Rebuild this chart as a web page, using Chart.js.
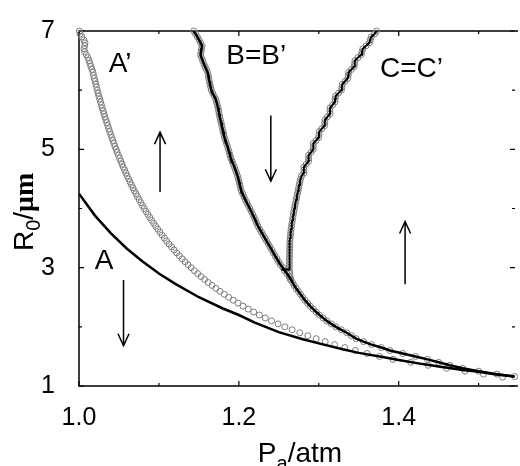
<!DOCTYPE html>
<html>
<head>
<meta charset="utf-8">
<script src="https://cdn.jsdelivr.net/npm/chart.js@4.4.1/dist/chart.umd.min.js"></script>
<style>
html,body{margin:0;padding:0;background:#fff;overflow:hidden;}
#wrap{width:520px;height:466px;}
</style>
</head>
<body>
<div id="wrap"><canvas id="c" width="520" height="466"></canvas></div>
<script>
// axes
let xTicks=[1.0,1.2,1.4];
let xMinor=[1.1,1.3,1.5];
let yTicks=[1,3,5,7];
let yMinor=[2,4,6];

// curve A (solid)
let aX=[1.00,1.02,1.04,1.06,1.08,1.10,1.12,1.15,1.18,1.20,1.22,1.25,1.28,1.30,1.33,1.35,1.38,1.40,1.43,1.45,1.48,1.50,1.52,1.545];
let aY=[4.25,3.88,3.58,3.32,3.10,2.90,2.73,2.50,2.31,2.20,2.07,1.91,1.79,1.72,1.62,1.56,1.49,1.44,1.37,1.33,1.27,1.24,1.20,1.16];

// curve A' (open circles)
let apY=[7.00,6.95,6.90,6.85,6.80,6.75,6.70,6.65,6.60,6.55,6.50,6.45,6.40,6.35,6.30,6.25,6.20,6.15,6.10,6.05,
 6.00,5.95,5.90,5.85,5.80,5.75,5.70,5.65,5.60,5.55,5.50,5.45,5.40,5.35,5.30,5.25,5.20,5.15,5.10,5.05,
 5.00,4.95,4.90,4.85,4.80,4.75,4.70,4.65,4.60,4.55,4.50,4.45,4.40,4.35,4.30,4.25,4.20,4.15,4.10,4.05,
 4.00,3.95,3.90,3.85,3.80,3.75,3.70,3.65,3.60,3.55,3.50,3.45,3.40,3.35,3.30,3.25,3.20,3.15,3.10,3.05,
 3.00,2.95,2.90,2.85,2.80,2.75,2.70,2.65,2.60,2.55,2.50,2.45,2.40,2.35,2.30,2.25,2.20,2.15,2.10,2.05,
 2.00,1.95,1.90,1.85,1.80,1.75,1.70,1.65,1.60,1.55,1.50,1.45,1.40,1.35,1.30,1.25,1.20,1.15];
let apX=[1.0005,1.0015,1.0035,1.0060,1.0075,1.0070,1.0062,1.0070,1.0092,1.0110,1.0125,1.0137,1.0148,1.0162,1.0175,1.0182,1.0191,1.0201,1.0210,1.0220,
 1.0229,1.0239,1.0249,1.0259,1.0270,1.0280,1.0291,1.0302,1.0313,1.0324,1.0336,1.0348,1.0360,1.0372,1.0384,1.0397,1.0410,1.0423,1.0436,1.0450,
 1.0464,1.0478,1.0493,1.0508,1.0523,1.0538,1.0554,1.0570,1.0587,1.0603,1.0621,1.0638,1.0656,1.0675,1.0693,1.0713,1.0732,1.0752,1.0773,1.0794,
 1.0816,1.0838,1.0861,1.0885,1.0909,1.0934,1.0959,1.0985,1.1012,1.1039,1.1068,1.1097,1.1127,1.1158,1.1190,1.1222,1.1256,1.1291,1.1327,1.1364,
 1.1403,1.1443,1.1484,1.1527,1.1571,1.1616,1.1664,1.1713,1.1764,1.1817,1.1872,1.1930,1.1990,1.2052,1.2117,1.2185,1.2256,1.2331,1.2409,1.2491,
 1.2577,1.2667,1.2762,1.2862,1.2968,1.3080,1.3198,1.3324,1.3457,1.3605,1.3760,1.3930,1.4150,1.4370,1.4600,1.4830,1.5060,1.5300];

// curve B=B' (line with circles)
let bY=[7.00,6.95,6.90,6.85,6.80,6.75,6.70,6.65,6.60,6.55,6.50,6.45,6.40,6.35,6.30,6.25,6.20,6.15,6.10,6.05,
 6.00,5.95,5.90,5.85,5.80,5.75,5.70,5.65,5.60,5.55,5.50,5.45,5.40,5.35,5.30,5.25,5.20,5.15,5.10,5.05,
 5.00,4.95,4.90,4.85,4.80,4.75,4.70,4.65,4.60,4.55,4.50,4.45,4.40,4.35,4.30,4.25,4.20,4.15,4.10,4.05,
 4.00,3.95,3.90,3.85,3.80,3.75,3.70,3.65,3.60,3.55,3.50,3.45,3.40,3.35,3.30,3.25,3.20,3.15,3.10,3.05,
 3.00,2.95,2.90,2.85,2.80,2.75,2.70,2.65,2.60,2.55,2.50,2.45,2.40,2.35,2.30,2.25,2.20,2.15,2.10,2.05,
 2.00,1.95,1.90,1.85,1.80,1.75,1.70,1.65,1.60,1.55,1.50,1.45,1.40,1.35,1.30,1.25,1.20,1.16];
let bX=[1.1435,1.1458,1.1481,1.1502,1.1521,1.1540,1.1533,1.1527,1.1520,1.1533,1.1547,1.1560,1.1577,1.1593,1.1610,1.1617,1.1623,1.1630,1.1639,1.1648,
 1.1656,1.1672,1.1691,1.1710,1.1720,1.1730,1.1740,1.1747,1.1753,1.1760,1.1769,1.1778,1.1786,1.1795,1.1803,1.1812,1.1820,1.1833,1.1845,1.1858,
 1.1868,1.1879,1.1889,1.1900,1.1915,1.1929,1.1944,1.1958,1.1971,1.1983,1.1994,1.2003,1.2012,1.2021,1.2030,1.2047,1.2063,1.2080,1.2099,1.2118,
 1.2137,1.2155,1.2173,1.2190,1.2207,1.2223,1.2240,1.2261,1.2283,1.2304,1.2326,1.2347,1.2369,1.2390,1.2411,1.2432,1.2454,1.2476,1.2498,1.2520,
 1.2550,1.2571,1.2600,1.2629,1.2651,1.2672,1.2692,1.2716,1.2744,1.2771,1.2798,1.2827,1.2860,1.2893,1.2931,1.2969,1.3009,1.3055,1.3100,1.3156,
 1.3214,1.3282,1.3350,1.3409,1.3468,1.3560,1.3660,1.3783,1.3890,1.4050,1.4210,1.4360,1.4500,1.4640,1.4800,1.5000,1.5230,1.5450];

// curve C=C' (line with circles), upper branch
let cY=[3.00,3.05,3.10,3.15,3.20,3.25,3.30,3.35,3.40,3.45,3.50,3.55,3.60,3.65,3.70,3.75,3.80,3.85,3.90,3.95,
 4.00,4.05,4.10,4.15,4.20,4.25,4.30,4.35,4.40,4.45,4.50,4.55,4.60,4.65,4.70,4.75,4.80,4.85,4.90,4.95,
 5.00,5.05,5.10,5.15,5.20,5.25,5.30,5.35,5.40,5.45,5.50,5.55,5.60,5.65,5.70,5.75,5.80,5.85,5.90,5.95,
 6.00,6.05,6.10,6.15,6.20,6.25,6.30,6.35,6.40,6.45,6.50,6.55,6.60,6.65,6.70,6.75,6.80,6.85,6.90,6.95,7.00];
let cX=[1.2630,1.2631,1.2632,1.2633,1.2634,1.2635,1.2636,1.2637,1.2638,1.2639,1.2642,1.2646,1.2649,1.2653,1.2659,1.2664,1.2670,1.2676,1.2682,1.2688,
 1.2695,1.2702,1.2710,1.2717,1.2725,1.2733,1.2741,1.2748,1.2756,1.2764,1.2772,1.2784,1.2814,1.2813,1.2813,1.2843,1.2873,1.2872,1.2872,1.2902,
 1.2931,1.2931,1.2932,1.2966,1.2999,1.3002,1.3005,1.3039,1.3072,1.3075,1.3078,1.3109,1.3140,1.3140,1.3141,1.3172,1.3202,1.3204,1.3211,1.3247,
 1.3283,1.3289,1.3294,1.3329,1.3363,1.3368,1.3373,1.3408,1.3443,1.3448,1.3453,1.3490,1.3530,1.3540,1.3551,1.3592,1.3633,1.3644,1.3656,1.3697,1.3723];
// short horizontal jog where C leaves the B curve, and the circles below it
let cJogX=[1.2530,1.2630];
let cJogY=[2.97,2.97];
let cTailX=[1.2645,1.2642,1.2638,1.2634];
let cTailY=[2.80,2.85,2.90,2.95];

// annotations (data coordinates)
let labelText=['A\u2019','B=B\u2019','C=C\u2019','A'];
let labelX=[1.0371,1.1843,1.3766,1.0198];
let labelY=[6.31,6.45,6.23,2.97];
let arrowX=[1.1014,1.2400,1.0557,1.4080];
let arrowFrom=[4.28,5.57,2.79,2.72];
let arrowTo=[5.29,4.46,1.68,3.78];

function pts(xs,ys){ return xs.map((v,i)=>({x:v,y:ys[i]})); }

const SANS='"Liberation Sans", Arial, sans-serif';
const circleStyle={showLine:false,pointRadius:3,pointBorderWidth:1,pointBorderColor:'#7d7d7d',
  pointBackgroundColor:'rgba(0,0,0,0)',order:3,clip:false};

const decor={
  id:'decor',
  beforeDatasetsDraw(chart){
    const {ctx,chartArea:a,scales:{x,y}}=chart;
    ctx.save();
    ctx.strokeStyle='#000';
    ctx.lineWidth=1.5;
    ctx.beginPath();
    ctx.moveTo(a.right+3,a.top); ctx.lineTo(a.left,a.top); ctx.lineTo(a.left,a.bottom); ctx.lineTo(a.right+3,a.bottom);
    ctx.stroke();
    ctx.lineWidth=1.2;
    ctx.beginPath();
    xTicks.concat(xMinor).forEach((v,i)=>{
      let len=i<xTicks.length?5:3, px=x.getPixelForValue(v);
      ctx.moveTo(px,a.bottom); ctx.lineTo(px,a.bottom-len);
      ctx.moveTo(px,a.top); ctx.lineTo(px,a.top+len);
    });
    yTicks.concat(yMinor).forEach((v,i)=>{
      let len=i<yTicks.length?5:3, py=y.getPixelForValue(v);
      ctx.moveTo(a.left,py); ctx.lineTo(a.left+len,py);
      ctx.moveTo(a.right,py); ctx.lineTo(a.right-len,py);
    });
    ctx.stroke();
    ctx.restore();
  },
  afterDatasetsDraw(chart){
    const {ctx,scales:{x,y}}=chart;
    ctx.save();
    ctx.fillStyle='#000';
    ctx.font='28px '+SANS;
    ctx.textBaseline='alphabetic';
    labelText.forEach((t,i)=>ctx.fillText(t,x.getPixelForValue(labelX[i]),y.getPixelForValue(labelY[i])));
    ctx.strokeStyle='#000';
    ctx.lineWidth=1.5;
    arrowX.forEach((v,i)=>{
      let px=x.getPixelForValue(v), p0=y.getPixelForValue(arrowFrom[i]), p1=y.getPixelForValue(arrowTo[i]);
      let dir=p1<p0?1:-1;
      ctx.beginPath();
      ctx.moveTo(px,p0); ctx.lineTo(px,p1);
      ctx.moveTo(px-5.5,p1+dir*12); ctx.lineTo(px,p1); ctx.lineTo(px+5.5,p1+dir*12);
      ctx.stroke();
    });
    ctx.restore();
  },
  afterDraw(chart){
    const {ctx,chartArea:a}=chart;
    ctx.save();
    ctx.fillStyle='#000';
    ctx.textBaseline='alphabetic';
    const run=(segs,x0,y0)=>{
      let cx=x0;
      segs.forEach(s=>{ ctx.font=s.f; ctx.fillText(s.t,cx,y0+s.dy); cx+=ctx.measureText(s.t).width; });
    };
    const width=segs=>segs.reduce((w,s)=>{ctx.font=s.f; return w+ctx.measureText(s.t).width;},0);
    // x title P_a/atm
    let xs=[{t:'P',f:'28px '+SANS,dy:0},{t:'a',f:'20px '+SANS,dy:8},{t:'/atm',f:'28px '+SANS,dy:0}];
    run(xs,(a.left+a.right)/2+3-width(xs)/2,462);
    // y title R_0/μm
    let ys=[{t:'R',f:'28px '+SANS,dy:0},{t:'0',f:'20px '+SANS,dy:7},{t:'/',f:'28px '+SANS,dy:0},{t:'\u03bcm',f:'bold 28px "Liberation Serif", serif',dy:0}];
    ctx.translate(33,251);
    ctx.rotate(-Math.PI/2);
    run(ys,0,0);
    ctx.restore();
  }
};

new Chart(document.getElementById('c'),{
  type:'scatter',
  data:{datasets:[
    {label:'A',data:pts(aX,aY),showLine:true,pointRadius:0,borderColor:'#000',borderWidth:2.5,order:1},
    Object.assign({label:'A\u2019',data:pts(apX,apY)},circleStyle),
    Object.assign({label:'B\u2019',data:pts(bX,bY)},circleStyle),
    {label:'B',data:pts(bX,bY),showLine:true,pointRadius:0,borderColor:'#000',borderWidth:2.5,order:1},
    Object.assign({label:'C\u2019',data:pts(cTailX.concat(cX),cTailY.concat(cY))},circleStyle),
    {label:'C',data:pts(cJogX.concat(cX),cJogY.concat(cY)),showLine:true,pointRadius:0,borderColor:'#000',borderWidth:2,order:1}
  ]},
  options:{
    responsive:false,
    animation:false,
    layout:{padding:{left:0,right:0,top:23,bottom:0}},
    plugins:{legend:{display:false},tooltip:{enabled:false}},
    scales:{
      x:{type:'linear',min:1.0,max:1.5455,
        grid:{display:false},border:{display:false},
        afterBuildTicks:s=>{s.ticks=xTicks.map(v=>({value:v}));},
        afterFit:s=>{s.height=80;},
        ticks:{padding:9,color:'#000',font:{family:SANS,size:25},callback:v=>v.toFixed(1),maxRotation:0}},
      y:{type:'linear',min:1,max:7,
        grid:{display:false},border:{display:false},
        afterBuildTicks:s=>{s.ticks=yTicks.map(v=>({value:v}));},
        afterFit:s=>{s.width=79;},
        ticks:{padding:16,color:'#000',font:{family:SANS,size:25},callback:v=>String(v)}}
    }
  },
  plugins:[decor]
});
</script>
</body>
</html>
